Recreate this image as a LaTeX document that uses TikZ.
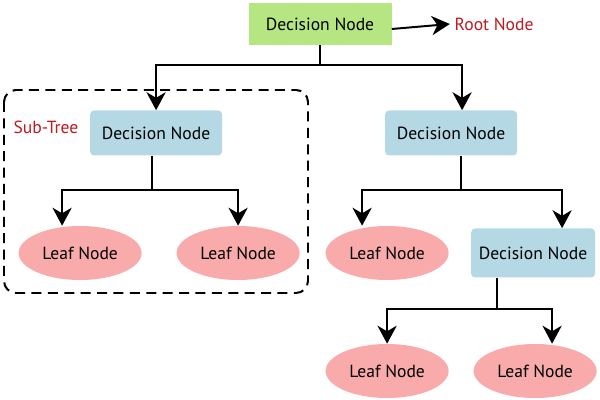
\documentclass[tikz,border=0pt]{standalone}
\usepackage{fontspec}
\setmainfont{PT Sans}
\usetikzlibrary{positioning,shapes.geometric,arrows.meta}
\definecolor{rootGreen}{RGB}{181,230,130}
\definecolor{decBlue}{RGB}{180,216,228}
\definecolor{leafPink}{RGB}{249,170,170}
\definecolor{noteRed}{RGB}{190,25,30}
\tikzset{
  rootNode/.style={rectangle, fill=rootGreen, minimum width=3.575cm, minimum height=1.05cm},
  decision/.style={rectangle, rounded corners=1mm, fill=decBlue, minimum width=3.3cm, minimum height=1.125cm},
%  decisionSmall/.style={decision, minimum width=3.1cm},
  leaf/.style={ellipse, fill=leafPink, minimum width=3.075cm, minimum height=1.35cm},
  note/.style={text=noteRed},
  subTree/.style={draw, line width=1.4pt, rounded corners=3mm, dash pattern=on 2.5mm off 1.6mm},
  applyOp/.style={-{Stealth[length=4.5mm, width=4.8mm, inset=1.4mm]}, line width=1.4pt},
  link/.style n args={3}{edge from parent path={([xshift=#1]\tikzparentnode.south) -- ++(0,-#2) -| ([xshift=#3]\tikzchildnode.north)}}
}
\begin{document}
\begin{tikzpicture}[font=\fontsize{12.5}{14}\selectfont,
        edge from parent/.style={draw, applyOp},
        level 1/.style={level distance=2.725cm, sibling distance=7.375cm},
        level 2/.style={level distance=3cm, sibling distance=3.95cm},
        level 3/.style={level distance=2.95cm, sibling distance=3.7cm}]
      \useasboundingbox (0,0) rectangle (15,-10);
      \draw [subTree] (0.1,-2.25) rectangle (7.7,-7.325);
      \node [note] (subLbl) at (1.15,-3.175) {Sub-Tree};
      \node [rootNode] (root) at (8,-0.6) {Decision Node}
        child [xshift=-0.41cm, link={0cm}{0.5cm}{0cm}] {node [decision] (dl) {Decision Node}
          child [xshift=0.075cm, link={-0.1cm}{0.85cm}{-0.45cm}] {node [leaf] (ll1) {Leaf Node}}
          child [xshift=0.075cm, link={-0.1cm}{0.85cm}{0cm}] {node [leaf] (ll2) {Leaf Node}}}
        child [xshift=-0.41cm, link={0cm}{0.5cm}{0.275cm}] {node [decision] (dr) {Decision Node}
          child [xshift=0.225cm, sibling distance=3.65cm, link={0.25cm}{0.85cm}{-0.625cm}] {node [leaf] (lr) {Leaf Node}}
          child [xshift=0.225cm, sibling distance=3.65cm, link={0.25cm}{0.85cm}{0.725cm}] {node [decision, minimum width=3.1cm, minimum height=1.225cm] (d3) {Decision Node}
            child [xshift=-1.8cm, link={-0.9cm}{0.775cm}{0cm}] {node [leaf] (lb1) {Leaf Node}}
            child [xshift=-1.8cm, link={-0.9cm}{0.775cm}{0.425cm}] {node [leaf] (lb2) {Leaf Node}}}};
      \node [note, right=1.45cm of root] (rootLbl) {Root Node};
      \draw [applyOp] ([yshift=-0.125cm]root.east) -- (rootLbl.west);
    \end{tikzpicture}
\end{document}
